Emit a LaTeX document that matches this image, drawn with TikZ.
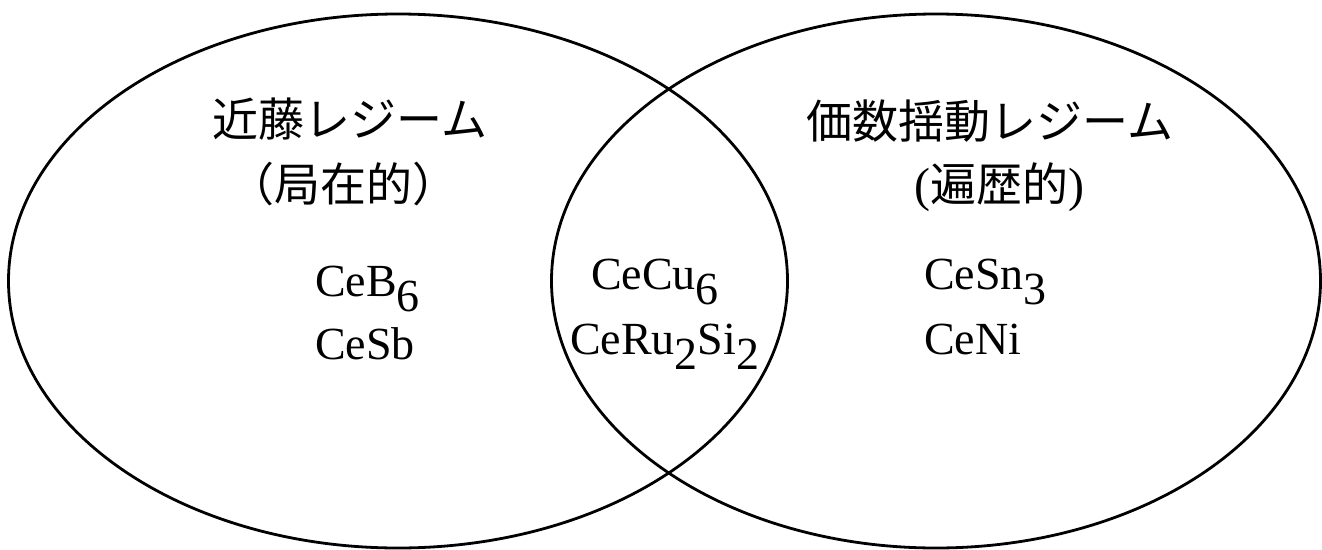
\documentclass[tikz,border=0pt]{standalone}
\usepackage{fontspec}
\setmainfont{Liberation Serif}
\newfontfamily\jpfont{Noto Sans CJK JP}
\usetikzlibrary{shapes.geometric}
\newcommand{\lowsub}[1]{\raisebox{-0.34em}{#1}}
\begin{document}
\begin{tikzpicture}[x=1pt,y=-1pt,
  region/.style={ellipse, draw, line width=2.8pt, inner sep=0pt},
  cjk/.style={font=\jpfont\fontsize{46}{54}\selectfont, anchor=center, inner sep=0pt},
  chem/.style={font=\fontsize{46}{54}\selectfont, anchor=base west, inner sep=0pt}]
\useasboundingbox (0,0) rectangle (1322,549);
\node[region, minimum width=779pt, minimum height=534pt] (kondo) at (398,281) {};
\node[region, minimum width=769pt, minimum height=534pt] (valence) at (936,281) {};
\node[cjk] (kt1) at (350,119) {近藤レジーム};
\node[cjk] (kt2) at (343,184) {（局在的）};
\node[cjk] (vt1) at (990,121) {価数揺動レジーム};
\node[cjk] (vt2) at (999,187) {{\rmfamily\fontsize{48}{54}\selectfont(}遍歴的{\rmfamily\fontsize{48}{54}\selectfont)}};
\node[chem] (ceb6) at (315,296) {CeB\lowsub{6}};
\node[chem] (cesb) at (315,359) {CeSb};
\node[chem] (cecu6) at (591,289) {CeCu\lowsub{6}};
\node[chem] (ceru2si2) at (570,354) {CeRu\lowsub{2}Si\lowsub{2}};
\node[chem] (cesn3) at (924,289) {CeSn\lowsub{3}};
\node[chem] (ceni) at (924,354) {CeNi};
\end{tikzpicture}
\end{document}
